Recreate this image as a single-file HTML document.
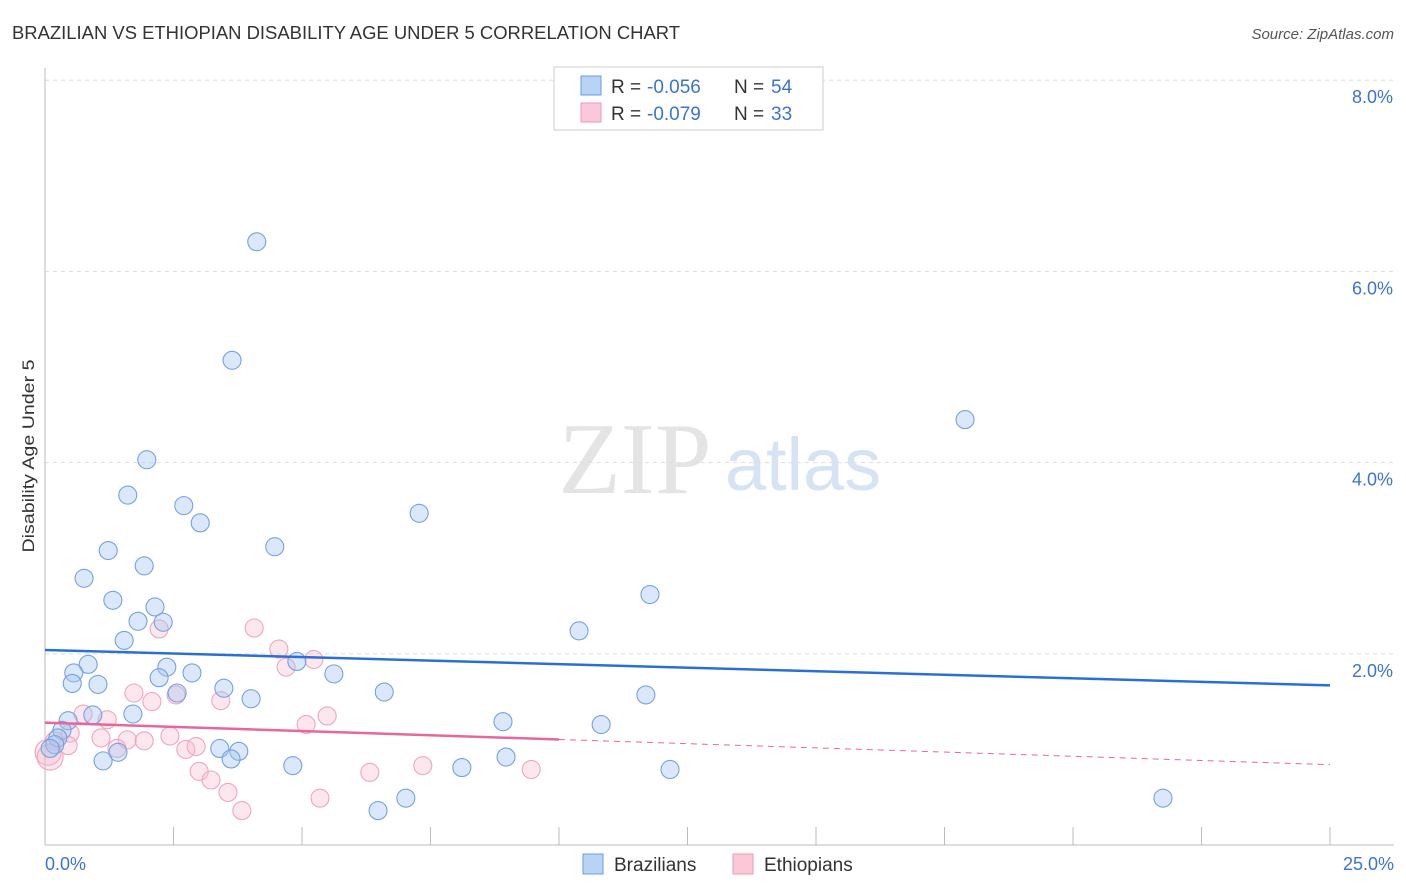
<!DOCTYPE html>
<html><head><meta charset="utf-8"><style>
body{margin:0;background:#fff;font-family:"Liberation Sans",sans-serif;}
#c{position:relative;width:1406px;height:892px;overflow:hidden;}
</style></head><body><div id="c">
<svg id="s" width="1406" height="892" xmlns="http://www.w3.org/2000/svg">
<text x="12" y="39" font-size="18" fill="#333" textLength="668" lengthAdjust="spacingAndGlyphs">BRAZILIAN VS ETHIOPIAN DISABILITY AGE UNDER 5 CORRELATION CHART</text>
<text x="1394" y="39" font-size="15" fill="#555" text-anchor="end" font-style="italic">Source: ZipAtlas.com</text>
<text x="635" y="493" font-size="102" fill="#e4e4e4" text-anchor="middle" font-family="Liberation Serif,serif">ZIP</text>
<text x="803" y="490" font-size="74" fill="#d6e3f5" text-anchor="middle">atlas</text>
<text x="34" y="456" font-size="17" fill="#333" text-anchor="middle" textLength="193" lengthAdjust="spacingAndGlyphs" transform="rotate(-90 34 456)">Disability Age Under 5</text>
<g id="grid"></g><g id="pts"></g><g id="trend"></g>
<g>
<rect x="554" y="67" width="269" height="63" fill="#fff" stroke="#ccc"/>
<rect x="581" y="76" width="20" height="19" fill="#b9d3f4" stroke="#6b9be0"/>
<rect x="581" y="103" width="20" height="19" fill="#fbc8d8" stroke="#ec9ab5"/>
<text x="611" y="93" font-size="19" fill="#333">R = <tspan x="647" fill="#3b74d0">-0.056</tspan><tspan x="734">N =</tspan><tspan x="771" fill="#3b74d0">54</tspan></text>
<text x="611" y="120" font-size="19" fill="#333">R = <tspan x="647" fill="#3b74d0">-0.079</tspan><tspan x="734">N =</tspan><tspan x="771" fill="#3b74d0">33</tspan></text>
</g>
<rect x="583" y="854" width="20" height="20" fill="#b9d3f4" stroke="#6b9be0"/>
<text x="614" y="871" font-size="19" fill="#333">Brazilians</text>
<rect x="733" y="854" width="20" height="20" fill="#fbc8d8" stroke="#ec9ab5"/>
<text x="764" y="871" font-size="19" fill="#333">Ethiopians</text>
<text x="45" y="870" font-size="18" fill="#3b74d0">0.0%</text>
<text x="1394" y="870" font-size="18" fill="#3b74d0" text-anchor="end">25.0%</text>
</svg></div>
<script>
const yTicks=[2,4,6,8];
const yTickLabels=["2.0%","4.0%","6.0%","8.0%"];
const xTicks=[0,2.5,5,7.5,10,12.5,15,17.5,20,22.5,25];
const braX=[4.12,3.64,17.90,1.98,1.61,2.70,7.28,3.02,4.47,1.23,1.93,0.76,11.77,1.32,2.14,1.81,2.30,10.39,1.54,4.90,0.84,2.37,0.56,5.62,2.86,2.22,0.53,1.03,2.57,3.48,6.60,11.69,4.01,1.71,0.93,8.91,10.82,0.45,0.33,0.25,0.19,0.10,3.40,3.77,1.42,1.13,3.62,8.97,4.82,8.11,12.16,7.02,6.48,21.75];
const braY=[6.31,5.07,4.45,4.03,3.66,3.55,3.47,3.37,3.12,3.08,2.92,2.79,2.62,2.56,2.49,2.34,2.33,2.24,2.14,1.92,1.89,1.86,1.80,1.79,1.80,1.75,1.69,1.68,1.59,1.64,1.60,1.57,1.53,1.37,1.36,1.29,1.26,1.30,1.20,1.12,1.05,1.01,1.01,0.98,0.97,0.88,0.90,0.92,0.83,0.81,0.79,0.49,0.36,0.49];
const ethX=[4.07,2.22,4.55,5.23,4.69,1.73,2.08,2.55,3.42,5.49,5.08,0.74,1.21,0.49,1.09,2.43,1.60,1.93,1.40,2.74,2.94,0.19,0.06,0.10,0.45,3.00,3.23,3.56,3.83,5.35,6.32,7.35,9.46];
const ethY=[2.27,2.26,2.05,1.94,1.86,1.59,1.50,1.57,1.51,1.35,1.26,1.37,1.31,1.17,1.12,1.14,1.10,1.09,1.01,1.00,1.03,1.09,0.97,0.92,1.04,0.77,0.68,0.55,0.36,0.49,0.76,0.83,0.79];
const braTrend=[2.04,1.67];
const ethTrend=[1.28,0.84];
const ethSolidEnd=10;
const NS="http://www.w3.org/2000/svg";
const xS=v=>45+v*51.4, yS=v=>845-v*95.6;
function mk(t,a,p){const e=document.createElementNS(NS,t);for(const k in a)e.setAttribute(k,a[k]);p.appendChild(e);return e;}
const grid=document.getElementById('grid');
yTicks.forEach((t,i)=>{
 const l=mk('line',{x1:45,x2:1394,y1:yS(t),y2:yS(t),stroke:'#ddd','stroke-dasharray':'4,4'},grid);
 
 
 const tx=mk('text',{x:1393,y:yS(t)+23,'font-size':18,fill:'#3b74d0','text-anchor':'end'},grid);
 tx.textContent=yTickLabels[i];
 
 
});
const ax=mk('line',{x1:45,x2:45,y1:68,y2:845,stroke:'#bbb'},grid);


const bx=mk('line',{x1:45,x2:1394,y1:845,y2:845,stroke:'#bbb'},grid);


xTicks.forEach(t=>{const l=mk('line',{x1:xS(t),x2:xS(t),y1:827,y2:845,stroke:'#bbb'},grid);
 
 });
const pts=document.getElementById('pts');
ethX.forEach((x,i)=>{const r=(x<0.2&&ethY[i]<1)?13:9;
 const c=mk('circle',{cx:xS(x),cy:yS(ethY[i]),r:r,fill:'rgba(248,185,205,0.35)',stroke:'#eea6bd','stroke-width':1.1},pts);
 
 });
braX.forEach((x,i)=>{
 const c=mk('circle',{cx:xS(x),cy:yS(braY[i]),r:9,fill:'rgba(165,198,240,0.4)',stroke:'#74a2e2','stroke-width':1.1},pts);
 
 });
const tr=document.getElementById('trend');
const ef=x=>ethTrend[0]+(ethTrend[1]-ethTrend[0])*x/25;
const b=mk('line',{x1:xS(0),y1:yS(braTrend[0]),x2:xS(25),y2:yS(braTrend[1]),stroke:'#2b6fd6','stroke-width':2.5},tr);


const e1=mk('line',{x1:xS(0),y1:yS(ef(0)),x2:xS(ethSolidEnd),y2:yS(ef(ethSolidEnd)),stroke:'#e8679a','stroke-width':2.5},tr);


const e2=mk('line',{x1:xS(ethSolidEnd),y1:yS(ef(ethSolidEnd)),x2:xS(25),y2:yS(ef(25)),stroke:'#e8679a','stroke-width':1,'stroke-dasharray':'6,5'},tr);


</script></body></html>
